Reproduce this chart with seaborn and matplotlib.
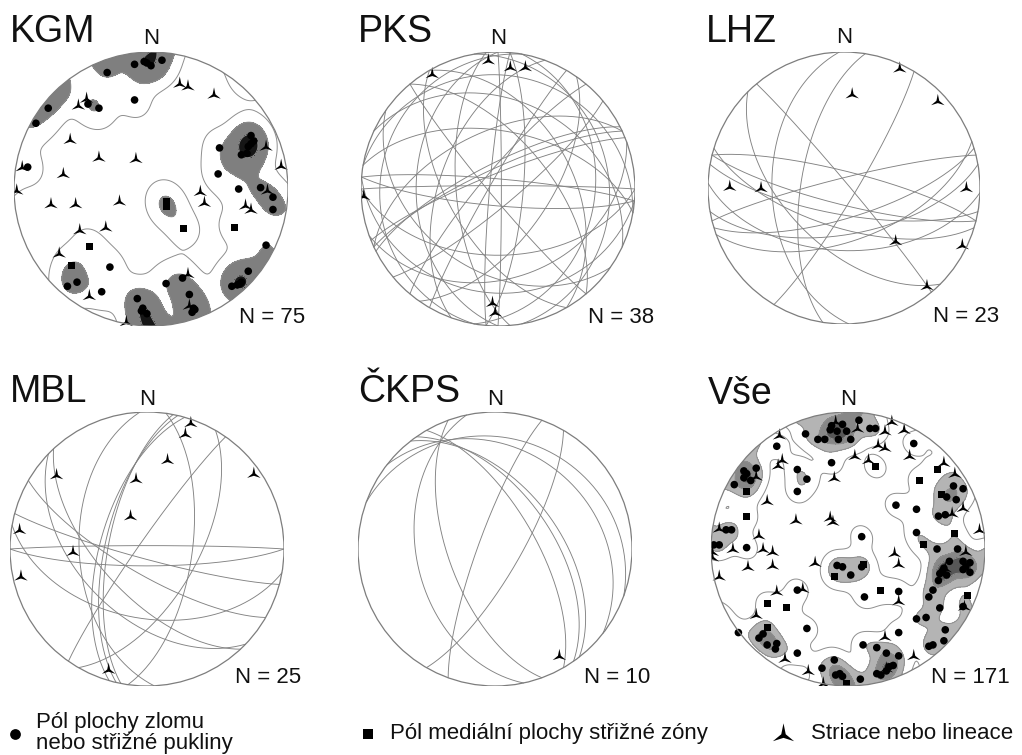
import math
import numpy as np
import pandas as pd
import matplotlib
matplotlib.use("Agg")
import matplotlib.pyplot as plt
from matplotlib.path import Path
from matplotlib.patches import Circle
import seaborn as sns

sns.set_theme(style="white")
plt.rcParams["font.family"] = ["Liberation Sans", "DejaVu Sans"]

# ---------------- data (lower-hemisphere equal-area net, unit radius: east, north) ----------------
kgm_poles = np.array([
    (-0.12, 0.91), (0.00, 0.90), (0.08, 0.94), (-0.03, 0.92), (-0.05, 0.93), (-0.32, 0.85),
    (-0.75, 0.59), (-0.84, 0.48), (-0.12, 0.65), (-0.38, 0.59), (-0.46, 0.62), (-0.90, 0.16),
    (0.50, 0.30), (0.73, 0.39), (0.75, 0.35), (0.71, 0.31), (0.70, 0.26), (0.66, 0.25),
    (0.73, 0.33), (0.49, 0.11), (0.64, 0.00), (0.80, 0.01), (0.89, -0.06), (0.89, -0.15),
    (-0.30, -0.57), (-0.36, -0.75), (-0.54, -0.68), (-0.61, -0.71), (0.84, -0.41), (0.71, -0.60),
    (0.66, -0.68), (0.63, -0.70), (0.59, -0.71), (0.65, -0.69), (0.11, -0.69), (0.23, -0.65),
    (0.28, -0.77), (0.32, -0.88), (0.30, -0.90), (0.31, -0.87), (-0.10, -0.80), (-0.07, -0.89),
    (-0.03, -0.91), (-0.06, -0.87)])
kgm_shear = np.array([(0.11, -0.09), (0.11, -0.13), (0.24, -0.29), (0.61, -0.28),
                      (-0.45, -0.42), (-0.58, -0.56)])
kgm_lin = np.array([
    (0.21, 0.77), (0.27, 0.75), (0.46, 0.69), (-0.47, 0.66), (-0.53, 0.61), (-0.59, 0.36),
    (-0.38, 0.23), (-0.11, 0.22), (-0.64, 0.11), (-0.94, 0.16), (-0.98, -0.01), (-0.73, -0.11),
    (-0.55, -0.11), (-0.23, -0.09), (0.36, -0.02), (0.39, -0.10), (0.69, -0.12), (0.73, -0.15),
    (0.84, 0.31), (0.95, 0.17), (0.85, -0.01), (-0.52, -0.30), (-0.33, -0.28), (-0.67, -0.47),
    (-0.45, -0.78), (-0.18, -0.97), (0.27, -0.62), (0.28, -0.85)])

pks_dipdir = [90, 275, 95, 265, 270, 0, 5, 185, 335, 333, 338, 335, 230, 50, 300, 310,
              10, 280, 80, 185, 180, 10, 25, 215, 125, 140, 60, 240, 100, 160, 290]
pks_dip = [88, 85, 75, 65, 40, 88, 84, 80, 78, 75, 81, 55, 85, 60, 85, 80,
           18, 15, 20, 25, 50, 55, 35, 40, 60, 80, 45, 60, 30, 35, 55]
pks_lin = np.array([(-0.07, 0.94), (0.09, 0.89), (0.20, 0.89), (-0.48, 0.84), (-0.98, -0.05),
                    (-0.04, -0.83), (-0.02, -0.90)])

lhz_dipdir = [50, 279, 121, 225, 268, 194, 197, 346, 163, 170, 182, 14, 190, 160]
lhz_dip = [87, 64, 83, 55, 46, 80, 66, 84, 72, 62, 52, 80, 74, 58]
lhz_lin = np.array([(0.41, 0.88), (0.06, 0.69), (0.69, 0.64), (-0.84, 0.01), (-0.61, 0.00),
                    (0.90, 0.00), (0.38, -0.39), (0.87, -0.42), (0.61, -0.72)])

mbl_dipdir = [267, 283, 286, 281, 98, 305, 210, 190, 180, 0, 227, 224, 195, 120]
mbl_dip = [49, 65, 62, 67, 63, 85, 75, 48, 80, 88, 62, 49, 84, 60]
mbl_lin = np.array([(0.32, 0.92), (0.28, 0.84), (0.15, 0.65), (-0.08, 0.51), (-0.66, 0.54),
                    (0.78, 0.55), (-0.12, 0.24), (-0.93, 0.14), (-0.54, -0.02), (-0.92, -0.20),
                    (-0.28, -0.88)])

ckps_dipdir = [258, 290, 120, 20, 38, 55, 52, 60, 250]
ckps_dip = [42, 80, 75, 20, 28, 56, 52, 66, 62]
ckps_lin = np.array([(0.47, -0.78)])

vse_poles = np.array([
    (-0.13, 0.87), (-0.17, 0.80), (-0.22, 0.80), (-0.07, 0.80), (0.02, 0.80), (-0.04, 0.91),
    (0.08, 0.94), (0.16, 0.88), (0.20, 0.88), (-0.12, 0.90), (-0.01, 0.86), (-0.08, 0.86),
    (-0.31, 0.84), (-0.52, 0.75), (-0.12, 0.63), (-0.37, 0.58), (-0.30, 0.51), (-0.37, 0.42),
    (0.48, 0.77), (0.35, 0.32), (0.10, 0.09),
    (-0.76, 0.57), (-0.67, 0.59), (-0.83, 0.47), (-0.76, 0.52), (-0.71, 0.50), (-0.74, 0.55),
    (-0.85, 0.14), (-0.89, 0.14), (-0.98, 0.03), (-0.94, 0.03), (-0.74, 0.01),
    (0.72, 0.38), (0.77, 0.46), (0.79, 0.36), (0.66, 0.24), (0.71, 0.25), (0.84, 0.44),
    (0.50, 0.29), (0.50, 0.12), (0.65, 0.00),
    (0.80, 0.00), (0.84, -0.09), (0.89, -0.10), (0.89, -0.17), (0.84, -0.15), (0.74, -0.09),
    (0.70, -0.14), (0.72, -0.19), (0.66, -0.23), (0.62, -0.30), (0.59, -0.35), (0.67, -0.18),
    (0.69, -0.16), (0.86, -0.13), (0.84, -0.42), (0.67, -0.43), (0.57, -0.50), (0.50, -0.51),
    (0.71, -0.59), (0.70, -0.67), (0.59, -0.71), (0.62, -0.70),
    (-0.80, -0.61), (-0.65, -0.65), (-0.59, -0.70), (-0.52, -0.69), (-0.53, -0.73), (-0.62, -0.62),
    (-0.30, -0.58), (-0.37, -0.76), (-0.19, -0.87), (0.11, -0.70), (0.21, -0.72), (0.37, -0.61),
    (-0.10, -0.81), (-0.09, -0.92), (-0.06, -0.91), (-0.04, -0.93), (0.28, -0.76), (0.37, -0.78),
    (0.33, -0.85), (0.28, -0.89), (0.21, -0.91), (0.24, -0.92), (0.09, -0.95), (0.30, -0.86),
    (0.12, -0.35), (0.37, -0.31), (-0.37, -0.30),
    (-0.04, -0.13), (0.02, -0.19), (0.10, -0.13), (-0.08, -0.12)])
vse_shear = np.array([
    (0.20, 0.60), (0.52, 0.50), (0.65, 0.58), (-0.74, 0.24), (-0.74, 0.42), (0.78, 0.11),
    (0.55, 0.03), (0.87, -0.34), (0.24, -0.30), (-0.45, -0.43), (-0.59, -0.40), (-0.59, -0.57),
    (0.11, -0.11), (-0.10, -0.20), (-0.01, -0.98), (0.68, 0.40)])
vse_lin = np.array([
    (-0.09, 0.93), (0.07, 0.88), (0.32, 0.93), (0.41, 0.87), (0.27, 0.86), (0.27, 0.74),
    (0.22, 0.76), (0.15, 0.65), (0.05, 0.68), (0.45, 0.68), (0.70, 0.63), (0.78, 0.55),
    (0.84, 0.30), (0.96, 0.14), (0.76, 0.26), (0.86, -0.02), (0.71, -0.14), (0.85, -0.42),
    (-0.50, 0.83), (-0.48, 0.65), (-0.51, 0.61), (-0.67, 0.53), (-0.10, 0.52), (-0.59, 0.35),
    (-0.38, 0.21), (-0.13, 0.23), (-0.11, 0.20), (-0.94, 0.15), (-0.99, -0.02), (-0.99, -0.06),
    (-0.84, 0.00), (-0.65, 0.10), (-0.62, 0.00), (-0.55, -0.02), (-0.73, -0.13), (-0.55, -0.12),
    (-0.94, -0.20), (-0.24, -0.10), (-0.33, -0.29), (-0.52, -0.31), (-0.67, -0.48), (-0.46, -0.80),
    (-0.29, -0.89), (-0.18, -0.98), (0.27, -0.64), (0.48, -0.78), (0.37, -0.38), (0.34, -0.03),
    (0.37, -0.11), (0.28, -0.87)])

panel_titles = ["KGM", "PKS", "LHZ", "MBL", "ČKPS", "Vše"]
panel_counts = ["N = 75", "N = 38", "N = 23", "N = 25", "N = 10", "N = 171"]
legend_labels = ["Pól plochy zlomu\nnebo střižné pukliny",
                 "Pól mediální plochy střižné zóny",
                 "Striace nebo lineace"]

# ---------------- helpers ----------------
W, H = 1022, 755
fig = plt.figure(figsize=(W / 100, H / 100), dpi=100)
fig.patch.set_facecolor("white")

def P(x, y):
    return x / W, 1 - y / H

def striae_marker():
    pts = [(0.0, 1.0), (-0.2, 0.02), (-0.95, -0.6), (0.0, -0.3), (0.95, -0.6),
           (0.2, 0.02), (0.0, 1.0)]
    codes = [Path.MOVETO] + [Path.LINETO] * 5 + [Path.CLOSEPOLY]
    return Path(pts, codes)

TRI = striae_marker()

def great_circle(dd, dip, n=181):
    t = np.linspace(0, np.pi, n)
    a = math.radians(dd)
    d = math.radians(dip)
    s = np.array([math.sin(a - math.pi / 2), math.cos(a - math.pi / 2), 0.0])
    dv = np.array([math.sin(a) * math.cos(d), math.cos(a) * math.cos(d), math.sin(d)])
    v = np.outer(np.cos(t), s) + np.outer(np.sin(t), dv)
    k = 1 / np.sqrt(1 + v[:, 2])
    return v[:, 0] * k, v[:, 1] * k

def planes_frame(dipdirs, dips):
    frames = []
    for i, (dd, dp) in enumerate(zip(dipdirs, dips)):
        x, y = great_circle(dd, dp)
        frames.append(pd.DataFrame({"x": x, "y": y, "plane": i}))
    return pd.concat(frames, ignore_index=True)

def make_axes(cx, cy, R):
    ax = fig.add_axes([(cx - R) / W, 1 - (cy + R) / H, 2 * R / W, 2 * R / H])
    ax.set_axis_off()
    return ax

def finish(ax):
    ax.add_patch(Circle((0, 0), 1, fill=False, ec="#7d7d7d", lw=0.9, zorder=8))
    ax.set_xlim(-1, 1)
    ax.set_ylim(-1, 1)
    ax.set_aspect("equal")

def density(ax, pts, levels, colors, bw):
    xs, ys = pts[:, 0], pts[:, 1]
    r = np.hypot(xs, ys)
    m = r > 0.7
    gx = -xs[m] / r[m] * (2 - r[m])
    gy = -ys[m] / r[m] * (2 - r[m])
    kx = np.concatenate([xs, gx])
    ky = np.concatenate([ys, gy])
    n0 = len(ax.collections)
    sns.kdeplot(x=kx, y=ky, ax=ax, fill=True, levels=levels, cmap="Greys",
                bw_adjust=bw, gridsize=250, cut=2)
    for c in ax.collections[n0:]:
        c.set_array(None)
        c.set_facecolor(colors)
        c.set_edgecolor("none")
    n1 = len(ax.collections)
    sns.kdeplot(x=kx, y=ky, ax=ax, fill=False, levels=levels[:-1], colors="#8f8f8f",
                linewidths=0.7, bw_adjust=bw, gridsize=250, cut=2)
    clip = Circle((0, 0), 1, transform=ax.transData)
    for c in ax.collections[n0:]:
        c.set_clip_path(clip)
        c.set_zorder(1)
    for c in ax.collections[n1:]:
        c.set_zorder(2)

def points(ax, pts, kind):
    if kind == "pole":
        sns.scatterplot(x=pts[:, 0], y=pts[:, 1], ax=ax, marker="o", s=30, color="black",
                        edgecolor="none", linewidth=0, zorder=6, legend=False)
    elif kind == "shear":
        sns.scatterplot(x=pts[:, 0], y=pts[:, 1], ax=ax, marker="s", s=26, color="black",
                        edgecolor="none", linewidth=0, zorder=6, legend=False)
    else:
        sns.scatterplot(x=pts[:, 0], y=pts[:, 1], ax=ax, marker=TRI, s=105, color="black",
                        edgecolor="none", linewidth=0, zorder=7, legend=False)

def planes(ax, dipdirs, dips):
    df = planes_frame(dipdirs, dips)
    sns.lineplot(data=df, x="x", y="y", units="plane", estimator=None, sort=False,
                 color="#828282", linewidth=0.65, ax=ax, legend=False, zorder=3)

# layout (pixels): circle centre, radius, title origin, count origin
layout = [
    dict(cx=151, cy=189, R=137, t=(9.5, 42.5), n=(239, 322.5), nb=44),
    dict(cx=498, cy=189, R=137, t=(357.5, 42.5), n=(588, 322.5), nb=44),
    dict(cx=844, cy=188, R=136, t=(706, 42.0), n=(933, 321.5), nb=43),
    dict(cx=147, cy=549, R=137, t=(10, 402.5), n=(235, 683), nb=405),
    dict(cx=495, cy=549, R=137, t=(358, 402.5), n=(584, 683), nb=405),
    dict(cx=848, cy=549, R=137, t=(708, 403.5), n=(931, 683), nb=405),
]

axes = [make_axes(L["cx"], L["cy"], L["R"]) for L in layout]

# KGM
ax = axes[0]
density(ax, np.vstack([kgm_poles, kgm_shear]), [0.08, 0.5, 0.94, 1.0],
        ["#ffffff", "#7f7f7f", "#161616"], 0.3)
points(ax, kgm_poles, "pole"); points(ax, kgm_shear, "shear"); points(ax, kgm_lin, "lin")
finish(ax)

# PKS
ax = axes[1]
planes(ax, pks_dipdir, pks_dip); points(ax, pks_lin, "lin"); finish(ax)
# LHZ
ax = axes[2]
planes(ax, lhz_dipdir, lhz_dip); points(ax, lhz_lin, "lin"); finish(ax)
# MBL
ax = axes[3]
planes(ax, mbl_dipdir, mbl_dip); points(ax, mbl_lin, "lin"); finish(ax)
# ČKPS
ax = axes[4]
planes(ax, ckps_dipdir, ckps_dip); points(ax, ckps_lin, "lin"); finish(ax)
# Vše
ax = axes[5]
density(ax, np.vstack([vse_poles, vse_shear]), [0.08, 0.45, 0.8, 0.95, 1.0],
        ["#ffffff", "#b4b4b4", "#878787", "#575757"], 0.25)
points(ax, vse_poles, "pole"); points(ax, vse_shear, "shear"); points(ax, vse_lin, "lin")
finish(ax)

# texts
for L, title, cnt in zip(layout, panel_titles, panel_counts):
    fig.text(*P(*L["t"]), title, fontsize=27, ha="left", va="baseline", color="#111111")
    fig.text(*P(L["cx"], L["nb"]), "N", fontsize=16, ha="center", va="baseline", color="#111111")
    fig.text(*P(*L["n"]), cnt, fontsize=16, ha="left", va="baseline", color="#111111")

# legend
lax = fig.add_axes([0, 0, 1, 1], zorder=10)
lax.set_xlim(0, W); lax.set_ylim(H, 0); lax.set_axis_off(); lax.patch.set_alpha(0)
lax.scatter([15.3], [734], s=60, marker="o", color="black", linewidths=0)
lax.scatter([368], [733.5], s=55, marker="s", color="black", linewidths=0)
lax.scatter([783], [734], s=260, marker=TRI, color="black", linewidths=0)
l1, l2 = legend_labels[0].split("\n")
fig.text(*P(36, 727.7), l1, fontsize=16, ha="left", va="baseline", color="#111111")
fig.text(*P(36, 749.3), l2, fontsize=16, ha="left", va="baseline", color="#111111")
fig.text(*P(390, 739.3), legend_labels[1], fontsize=16, ha="left", va="baseline", color="#111111")
fig.text(*P(810.5, 739.3), legend_labels[2], fontsize=16, ha="left", va="baseline", color="#111111")

fig.savefig("out.png", dpi=100, facecolor="white")
